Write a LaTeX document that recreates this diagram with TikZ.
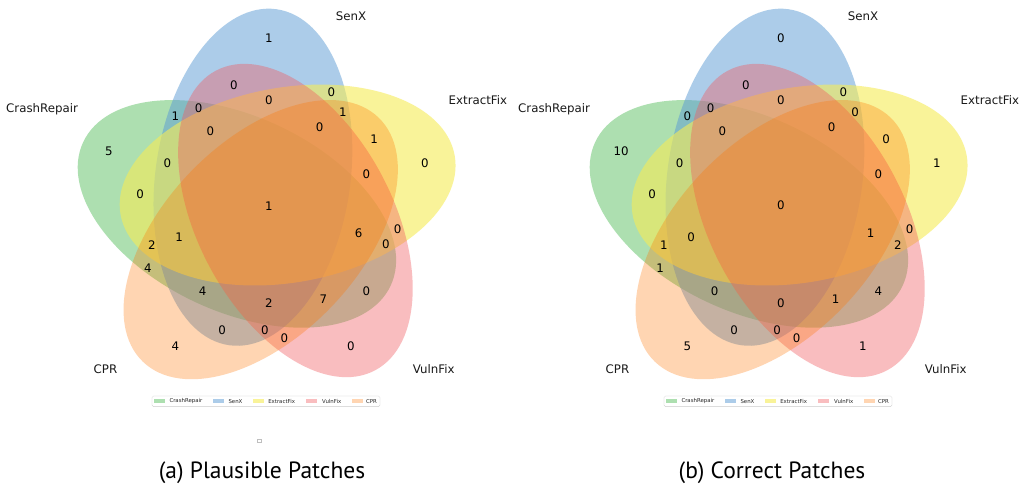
\documentclass[tikz,border=0pt]{standalone}
\usepackage{fontspec}
\setmainfont{DejaVu Sans}
\newfontfamily\capfont{PT Sans}

\definecolor{vgreen}{RGB}{92,192,98}
\definecolor{vblue}{RGB}{90,155,212}
\definecolor{vyellow}{RGB}{246,236,86}
\definecolor{vpink}{RGB}{241,90,96}
\definecolor{vorange}{RGB}{255,117,0}

\tikzset{
  num/.style={inner sep=0pt, font=\fontsize{11.8}{14}\selectfont, text=black},
  setname/.style={inner sep=0pt, font=\fontsize{11.8}{14}\selectfont, text=black!90},
  legpatch/.style={rectangle, inner sep=0pt, minimum width=10.8pt, minimum height=3.8pt, draw=none},
  legtext/.style={anchor=west, inner sep=0pt, font=\fontsize{5.4}{6}\selectfont, text=black!85},
  legframe/.style={draw=black!20, fill=white, line width=0.3pt, rounded corners=1.5pt},
  capt/.style={anchor=base, inner sep=0pt, font=\capfont\fontsize{23.5}{28}\selectfont, text=black}
}

\begin{document}
\begin{tikzpicture}[x=1pt, y=-1pt]
\useasboundingbox (0,0) rectangle (1029,487);
\fill[white] (0,0) rectangle (1029,487);

% two panels: (a) plausible patches, (b) correct patches
\foreach \dx/\p in {0/a, 512/b}{
  \begin{scope}[shift={(70+\dx,389)}, x=390pt, y=390pt]
    % the five sets, drawn in legend order
    \foreach \cx/\cy/\ang/\col/\op in {
        0.428/0.449/155/vgreen/0.5,
        0.469/0.543/82/vblue/0.5,
        0.558/0.523/10/vyellow/0.6,
        0.578/0.432/118/vpink/0.4,
        0.489/0.383/46/vorange/0.3}{
      \fill[\col, fill opacity=\op, shift={(\cx,\cy)}, rotate=\ang]
        (0,0) ellipse [x radius=169.65pt, y radius=97.5pt];
    }
  \end{scope}
}

% region counts: code / x / y / plausible / correct
\begin{scope}[shift={(70,389)}, x=390pt, y=390pt]
  \foreach \code/\px/\py/\va/\vb in {
      00001/0.27/0.11/4/5,
      00010/0.72/0.11/0/1,
      00011/0.55/0.13/0/0,
      00100/0.91/0.58/0/1,
      00101/0.78/0.64/1/0,
      00110/0.84/0.41/0/0,
      00111/0.76/0.55/0/0,
      01000/0.51/0.90/1/0,
      01001/0.39/0.15/0/0,
      01010/0.42/0.78/0/0,
      01011/0.50/0.15/0/0,
      01100/0.67/0.76/0/0,
      01101/0.70/0.71/1/0,
      01110/0.51/0.74/0/0,
      01111/0.64/0.67/0/0,
      10000/0.10/0.61/5/10,
      10001/0.20/0.31/4/1,
      10010/0.76/0.25/0/4,
      10011/0.65/0.23/7/1,
      10100/0.18/0.50/0/0,
      10101/0.21/0.37/2/1,
      10110/0.81/0.37/0/2,
      10111/0.74/0.40/6/1,
      11000/0.27/0.70/1/0,
      11001/0.34/0.25/4/0,
      11010/0.33/0.72/0/0,
      11011/0.51/0.22/2/0,
      11100/0.25/0.58/0/0,
      11101/0.28/0.39/1/0,
      11110/0.36/0.66/0/0,
      11111/0.51/0.47/1/0}{
    \node[num] (a-\code) at (\px,\py) {\va};
    \node[num, xshift=512pt] (b-\code) at (\px,\py) {\vb};
  }
\end{scope}

% set names, legends and captions
\foreach \dx/\p in {0/a, 512/b}{
  \node[setname, anchor=base west] (\p-crash) at (6+\dx,112.3) {CrashRepair};
  \node[setname, anchor=base] (\p-senx) at (351+\dx,20.3) {SenX};
  \node[setname, anchor=base west] (\p-extract) at (448.5+\dx,104.3) {ExtractFix};
  \node[setname, anchor=base west] (\p-vuln) at (412.7+\dx,373.3) {VulnFix};
  \node[setname, anchor=base west] (\p-cpr) at (93.5+\dx,373.3) {CPR};

  \draw[legframe] (152+\dx,396) rectangle (380+\dx,406.6);
  \node[legpatch, fill=vgreen, fill opacity=0.5] (\p-lg1) at (159.6+\dx,401.3) {};
  \node[legtext] (\p-lt1) at (169.3+\dx,401.3) {CrashRepair};
  \node[legpatch, fill=vblue, fill opacity=0.5] (\p-lg2) at (218.6+\dx,401.3) {};
  \node[legtext] (\p-lt2) at (228.3+\dx,401.3) {SenX};
  \node[legpatch, fill=vyellow, fill opacity=0.6] (\p-lg3) at (258.4+\dx,401.3) {};
  \node[legtext] (\p-lt3) at (268.1+\dx,401.3) {ExtractFix};
  \node[legpatch, fill=vpink, fill opacity=0.4] (\p-lg4) at (311.4+\dx,401.3) {};
  \node[legtext] (\p-lt4) at (322+\dx,401.3) {VulnFix};
  \node[legpatch, fill=vorange, fill opacity=0.3] (\p-lg5) at (357.1+\dx,401.3) {};
  \node[legtext] (\p-lt5) at (366+\dx,401.3) {CPR};
}

\node[draw=black!25, line width=0.3pt, minimum size=3.5pt, inner sep=0pt] (a-mark) at (259,440.5) {};

\node[capt] (capa) at (262,478) {(a) Plausible Patches};
\node[capt] (capb) at (772,478) {(b) Correct Patches};
\end{tikzpicture}
\end{document}
